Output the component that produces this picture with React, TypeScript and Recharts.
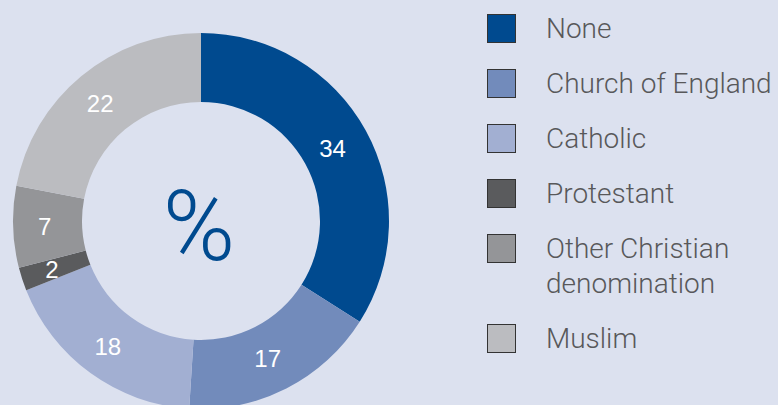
import { PieChart, Pie, Cell, Legend } from "recharts";

const categories = [
  "None",
  "Church of England",
  "Catholic",
  "Protestant",
  "Other Christian denomination",
  "Muslim",
];
const values = [34, 17, 18, 2, 7, 22];
const colors = ["#004a8f", "#728bbb", "#a2afd2", "#5a5b5d", "#949598", "#bbbcc0"];

const data = categories.map((name, i) => ({ name, value: values[i] }));

const BG = "#dce1ef";
const RADIAN = Math.PI / 180;

function renderLabel(props: any) {
  const { cx, cy, midAngle, innerRadius, outerRadius, value } = props;
  const r = (innerRadius + outerRadius) / 2;
  const x = cx + r * Math.cos(-midAngle * RADIAN) - 3;
  const y = cy + r * Math.sin(-midAngle * RADIAN) + 1;
  return (
    <text
      x={x}
      y={y}
      fill="#ffffff"
      textAnchor="middle"
      dominantBaseline="central"
      fontSize={24}
      fontFamily="'Liberation Sans', Arial, sans-serif"
    >
      {value}
    </text>
  );
}

function LegendContent() {
  return (
    <div style={{ fontFamily: "Roboto, 'Liberation Sans', sans-serif", fontWeight: 300 }}>
      {data.map((d, i) => (
        <div
          key={d.name}
          style={{
            display: "flex",
            alignItems: "flex-start",
            marginBottom: 23,
          }}
        >
          <div
            style={{
              width: 27,
              height: 27,
              background: colors[i],
              border: "1px solid #333",
              flexShrink: 0,
            }}
          />
          <div
            style={{
              marginLeft: 30,
              fontSize: 28,
              lineHeight: "35px",
              color: "#58585a",
              width: 240,
              marginTop: -3,
            }}
          >
            {d.name}
          </div>
        </div>
      ))}
    </div>
  );
}

export default function App() {
  return (
    <div style={{ width: 778, height: 405, background: BG, position: "relative", overflow: "hidden" }}>
      <style>{`body{margin:0}`}</style>
      <PieChart width={778} height={405} margin={{ top: 0, right: 0, bottom: 0, left: 0 }}>
        <Pie
          data={data}
          dataKey="value"
          nameKey="name"
          cx={201}
          cy={221}
          innerRadius={119}
          outerRadius={188}
          startAngle={90}
          endAngle={-270}
          stroke="none"
          label={renderLabel}
          labelLine={false}
          isAnimationActive={false}
        >
          {data.map((d, i) => (
            <Cell key={d.name} fill={colors[i]} />
          ))}
        </Pie>
        <text
          x={199}
          y={226}
          textAnchor="middle"
          dominantBaseline="central"
          fontSize={98}
          fontWeight={300}
          fill="#004a8f"
          fontFamily="Roboto, 'Liberation Sans', sans-serif"
        >
          %
        </text>
        <Legend
          layout="vertical"
          verticalAlign="top"
          align="right"
          content={<LegendContent />}
          wrapperStyle={{ left: 487, top: 14, width: 291 }}
        />
      </PieChart>
    </div>
  );
}
